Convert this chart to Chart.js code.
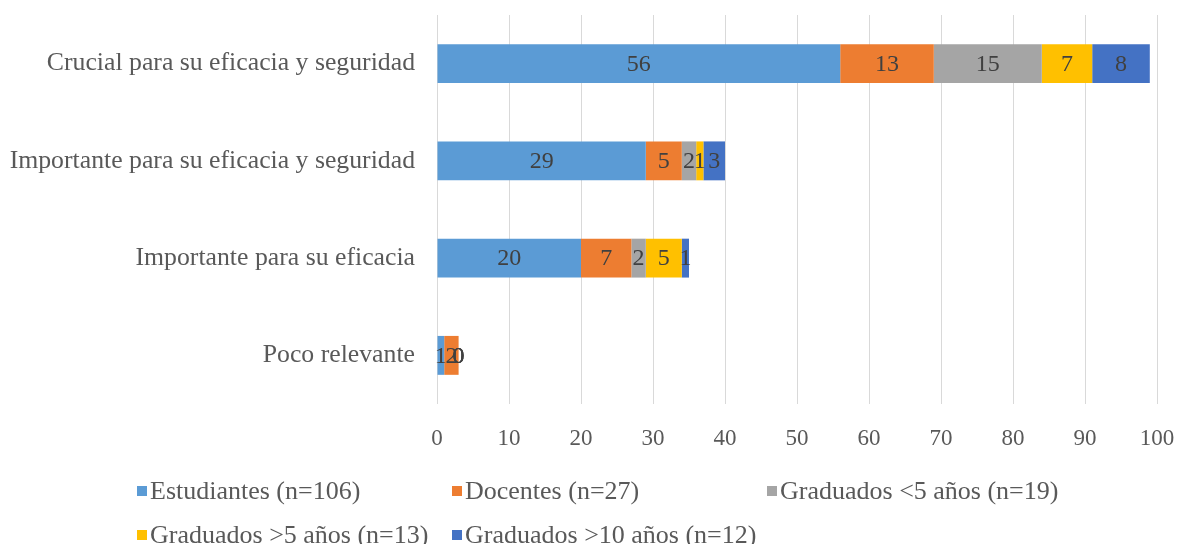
<!DOCTYPE html>
<html><head><meta charset="utf-8">
<script src="https://cdn.jsdelivr.net/npm/chart.js@4.4.1/dist/chart.umd.min.js"></script>
<style>
html,body{margin:0;padding:0;background:#fff;}
#wrap{position:relative;width:1179px;height:544px;overflow:hidden;}
canvas{position:absolute;left:0;top:0;}
.lg{position:absolute;font-family:'Liberation Serif','Times New Roman',serif;font-size:26px;color:#595959;white-space:nowrap;line-height:30px;}
.sw{position:absolute;width:10px;height:10px;}
</style></head>
<body><div id="wrap"><canvas id="c" width="1179" height="544"></canvas><div id="legend"></div></div>
<script>
const categories = ["Crucial para su eficacia y seguridad","Importante para su eficacia y seguridad","Importante para su eficacia","Poco relevante"];
const seriesNames = ["Estudiantes (n=106)","Docentes (n=27)","Graduados <5 años (n=19)","Graduados >5 años (n=13)","Graduados >10 años (n=12)"];
const estudiantes = [56, 29, 20, 1];
const docentes = [13, 5, 7, 2];
const graduadosMenos5 = [15, 2, 2, 0];
const graduadosMas5 = [7, 1, 5, 0];
const graduadosMas10 = [8, 3, 1, 0];
const xTicks = [0,10,20,30,40,50,60,70,80,90,100];
const colors = ["#5B9BD5","#ED7D31","#A5A5A5","#FFC000","#4472C4"];
const seriesData = [estudiantes, docentes, graduadosMenos5, graduadosMas5, graduadosMas10];

const FONT = "'Liberation Serif','Times New Roman',serif";

const labelPlugin = {
  id:'barLabels',
  afterDatasetsDraw(chart){
    const ctx = chart.ctx;
    ctx.save();
    ctx.font = "24px " + FONT;
    ctx.fillStyle = "#404040";
    ctx.textAlign = "center";
    ctx.textBaseline = "middle";
    chart.data.datasets.forEach((ds, di) => {
      const meta = chart.getDatasetMeta(di);
      meta.data.forEach((el, i) => {
        const p = el.getCenterPoint();
        ctx.fillText(String(ds.data[i]), p.x, p.y + 1);
      });
    });
    ctx.restore();
  }
};

function zeroPad(s){ s.paddingLeft = 0; s.paddingRight = 0; s.paddingTop = 0; s.paddingBottom = 0; }

new Chart(document.getElementById('c'), {
  type:'bar',
  data:{
    labels: categories,
    datasets: seriesNames.map((n, i) => ({
      label: n, data: seriesData[i], backgroundColor: colors[i],
      borderWidth: 0, barPercentage: 0.4, categoryPercentage: 1
    }))
  },
  options:{
    indexAxis:'y', responsive:false, animation:false,
    layout:{padding:{top:15, right:22, bottom:90, left:0}},
    plugins:{legend:{display:false}, tooltip:{enabled:false}},
    scales:{
      x:{
        stacked:true, min:0, max:100,
        afterBuildTicks(s){ s.ticks = xTicks.map(v => ({value:v})); },
        afterFit(s){ s.height = 50; zeroPad(s); },
        grid:{color:'#D9D9D9', lineWidth:1, drawTicks:false},
        border:{display:false},
        ticks:{font:{family:FONT, size:23}, color:'#595959', padding:21}
      },
      y:{
        stacked:true,
        afterFit(s){ s.width = 437; zeroPad(s); },
        grid:{display:false, drawTicks:false},
        border:{display:false},
        ticks:{font:{family:FONT, size:25.75}, color:'#595959', padding:22}
      }
    }
  },
  plugins:[labelPlugin]
});

const legendPos = [
  {sx:137, tx:150, y:491},
  {sx:452, tx:465, y:491},
  {sx:767, tx:780, y:491},
  {sx:137, tx:150, y:535},
  {sx:452, tx:465, y:535}
];
const lg = document.getElementById('legend');
seriesNames.forEach((n, i) => {
  const p = legendPos[i];
  const sw = document.createElement('div');
  sw.className = 'sw'; sw.style.background = colors[i];
  sw.style.left = p.sx + 'px'; sw.style.top = (p.y - 5) + 'px';
  lg.appendChild(sw);
  const t = document.createElement('div');
  t.className = 'lg'; t.textContent = n;
  t.style.left = p.tx + 'px'; t.style.top = (p.y - 15) + 'px';
  lg.appendChild(t);
});
</script></body></html>
